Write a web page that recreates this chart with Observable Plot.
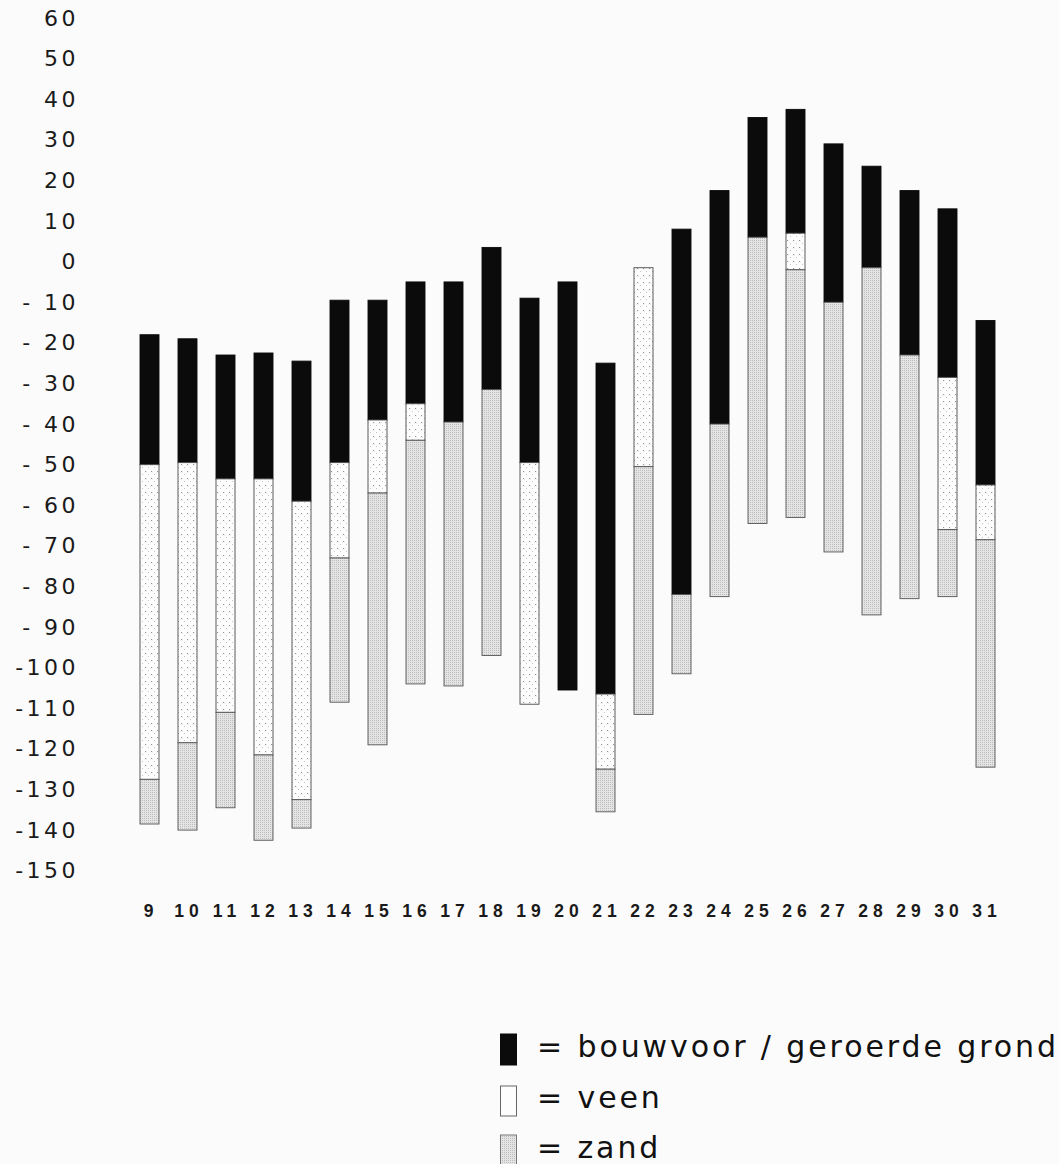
<!DOCTYPE html>
<html>
<head>
<meta charset="utf-8">
<script src="https://cdn.jsdelivr.net/npm/d3@7"></script>
<script src="https://cdn.jsdelivr.net/npm/@observablehq/plot@0.6"></script>
<style>
  html, body { margin: 0; padding: 0; background: #fbfbfb; }
  #wrap { position: relative; width: 1059px; height: 1164px; overflow: hidden; background: #fbfbfb; }
  #chart svg { display: block; background: transparent; }
  g[aria-label="y-axis tick label"] text { font-family: "DejaVu Sans", sans-serif; font-size: 22px; letter-spacing: 3.5px; fill: #1a1a1a; }
  g[aria-label="x-axis tick label"] text { font-family: "Liberation Sans", Arial, sans-serif; font-weight: bold; font-size: 17.5px; letter-spacing: 5px; fill: #1a1a1a; }
  #legend { position: absolute; left: 0; top: 950px; }
  #legend text { font-family: "DejaVu Sans", sans-serif; font-size: 30px; letter-spacing: 2.9px; fill: #111; }
</style>
</head>
<body>
<div id="wrap">
  <div id="chart"></div>
  <svg id="legend" width="1059" height="214"></svg>
</div>
<script>
// Boring numbers (9..31) along the transect
const categories = [9,10,11,12,13,14,15,16,17,18,19,20,21,22,23,24,25,26,27,28,29,30,31];
// top of the column (surface level)
const maaiveld = [-18,-19,-23,-22.5,-24.5,-9.5,-9.5,-5,-5,3.5,-9,-5,-25,-1.5,8,17.5,35.5,37.5,29,23.5,17.5,13,-14.5];
// lower boundary of each layer (null = layer absent)
const bouwvoorOnder = [-50,-49.5,-53.5,-53.5,-59,-49.5,-39,-35,-39.5,-31.5,-49.5,-105.5,-106.5,null,-82,-40,6,7,-10,-1.5,-23,-28.5,-55];
const veenOnder = [-127.5,-118.5,-111,-121.5,-132.5,-73,-57,-44,null,null,-109,null,-125,-50.5,null,null,null,-2,null,null,null,-66,-68.5];
const zandOnder = [-138.5,-140,-134.5,-142.5,-139.5,-108.5,-119,-104,-104.5,-97,null,null,-135.5,-111.5,-101.5,-82.5,-64.5,-63,-71.5,-87,-83,-82.5,-124.5];
const yTicks = [60,50,40,30,20,10,0,-10,-20,-30,-40,-50,-60,-70,-80,-90,-100,-110,-120,-130,-140,-150];
const legendLabels = ["= bouwvoor / geroerde grond", "= veen", "= zand"];

const layers = [["bouwvoor", bouwvoorOnder], ["veen", veenOnder], ["zand", zandOnder]];
const fills = {bouwvoor: "#0b0b0b", veen: "url(#veenPat)", zand: "url(#zandPat)"};
const strokes = {bouwvoor: "#0b0b0b", veen: "#4a4a4a", zand: "#555555"};

const rows = [];
categories.forEach((c, i) => {
  let t = maaiveld[i];
  for (const [name, arr] of layers) {
    const b = arr[i];
    if (b != null) { rows.push({cat: c, layer: name, y1: t, y2: b}); t = b; }
  }
});

const fmt = v => v > 0 ? String(v) : v === 0 ? "0" : (v > -100 ? "- " + (-v) : "-" + (-v));

const H = 950;
const plot = Plot.plot({
  width: 1059,
  height: H,
  marginLeft: 121.6,
  marginRight: 45.6,
  marginTop: 18,
  marginBottom: H - 870.7,
  style: {background: "transparent", overflow: "visible"},
  x: {type: "band", domain: categories, paddingInner: 0.5, paddingOuter: 0.25, label: null},
  y: {domain: [-150, 60], label: null},
  color: {type: "identity"},
  marks: [
    Plot.rectY(rows, {x: "cat", y1: "y1", y2: "y2", fill: d => fills[d.layer], stroke: d => strokes[d.layer], strokeWidth: 0.9}),
    Plot.axisY({ticks: yTicks, tickSize: 0, tickPadding: 43, tickFormat: fmt, label: null, fontSize: 22, fontFamily: "DejaVu Sans"}),
    Plot.axisX({tickSize: 0, tickPadding: 33, dx: 1, label: null, fontSize: 17.5, fontWeight: "bold", fontFamily: "Liberation Sans"})
  ]
});

d3.select(plot).insert("defs", ":first-child").html(`
  <pattern id="veenPat" patternUnits="userSpaceOnUse" width="6" height="7">
    <rect width="6" height="7" fill="#fdfdfd"/>
    <path d="M1 2 l1.2 1.2 M2.2 2 l-1.2 1.2" stroke="#777" stroke-width="0.6"/>
    <circle cx="4.5" cy="5.5" r="0.45" fill="#888"/>
  </pattern>
  <pattern id="zandPat" patternUnits="userSpaceOnUse" width="2" height="2">
    <rect width="2" height="2" fill="#e4e4e4"/>
    <rect x="0" y="0" width="1" height="1" fill="#bdbdbd"/>
  </pattern>
`);
document.getElementById("chart").appendChild(plot);

// legend (below the chart svg)
const lg = d3.select("#legend");
lg.append("defs").html(`
  <pattern id="zandPatL" patternUnits="userSpaceOnUse" width="2" height="2">
    <rect width="2" height="2" fill="#e4e4e4"/>
    <rect x="0" y="0" width="1" height="1" fill="#bdbdbd"/>
  </pattern>`);
const sw = [
  {fill: "#0b0b0b", stroke: "#0b0b0b", y: 1034, h: 31, ty: 1057},
  {fill: "#fdfdfd", stroke: "#666", y: 1086, h: 30, ty: 1108},
  {fill: "url(#zandPatL)", stroke: "#777", y: 1135, h: 30, ty: 1158}
];
sw.forEach((s, i) => {
  lg.append("rect").attr("x", 500.5).attr("y", s.y - 950).attr("width", 16).attr("height", s.h)
    .attr("fill", s.fill).attr("stroke", s.stroke).attr("stroke-width", 1);
  lg.append("text").attr("x", 537).attr("y", s.ty - 950).text(legendLabels[i]);
});
</script>
</body>
</html>
